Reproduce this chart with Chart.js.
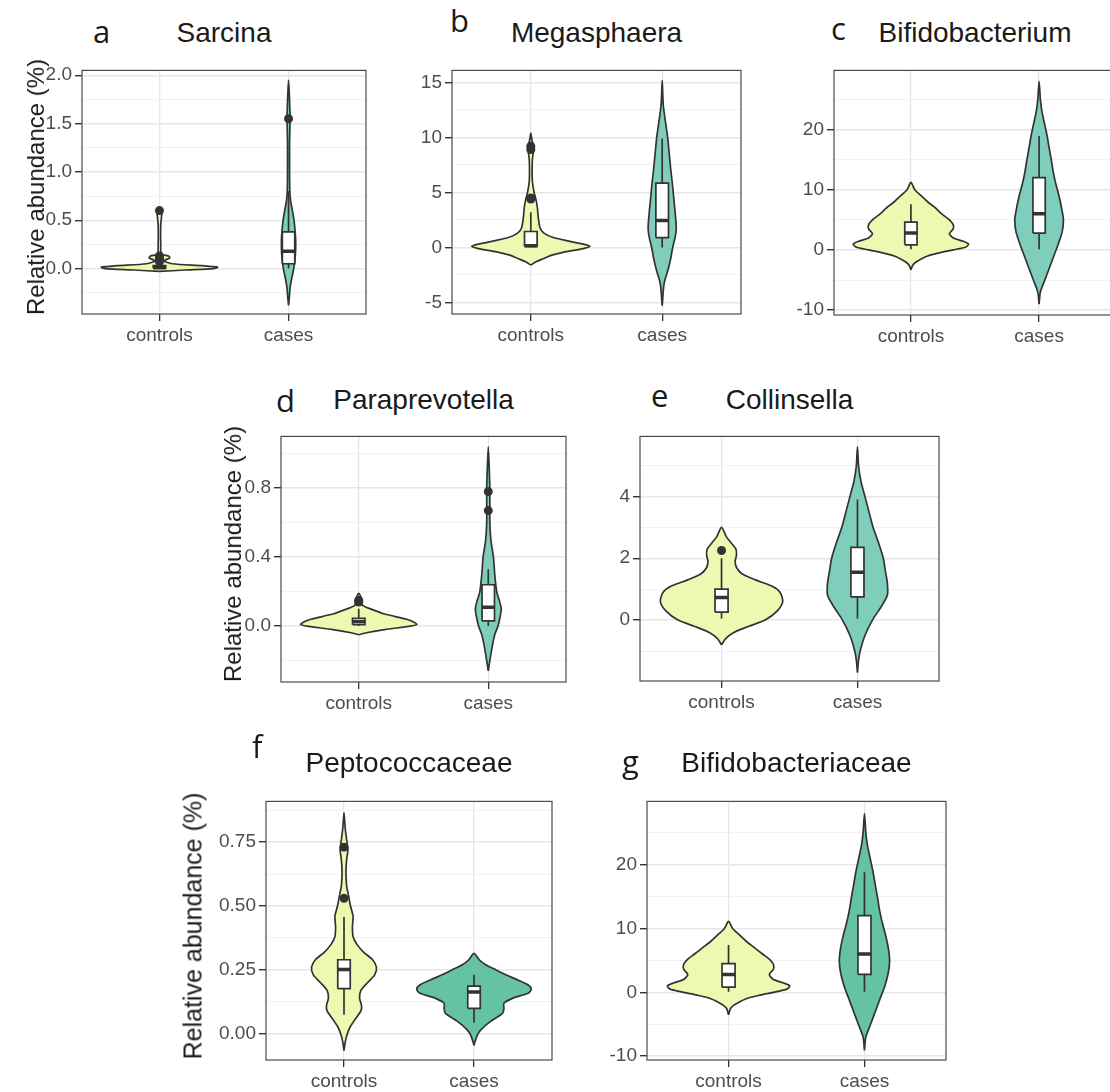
<!DOCTYPE html>
<html>
<head>
<meta charset="utf-8">
<script src="https://cdn.jsdelivr.net/npm/chart.js@4.4.1/dist/chart.umd.min.js"></script>
<style>
  html, body { margin: 0; padding: 0; background: #fff; width: 1110px; height: 1092px; overflow: hidden; position: relative; }
  canvas { position: absolute; }
  .txt { position: absolute; white-space: nowrap; line-height: 0; color: #1a1a1a; }
</style>
</head>
<body>
<script>
// categories
const groups = ["controls", "cases"];

// violin outlines: value levels (y) and half widths (w, in category units)
const aCtrlY = [-0.03, -0.015, 0, 0.015, 0.03, 0.05, 0.08, 0.11, 0.13, 0.15, 0.25, 0.45, 0.56, 0.6, 0.63];
const aCtrlW = [0, 0.2, 0.42, 0.45, 0.33, 0.1, 0.035, 0.08, 0.07, 0.015, 0.01, 0.01, 0.018, 0.02, 0];
const aCaseY = [-0.38, -0.3, -0.2, -0.1, 0, 0.1, 0.2, 0.3, 0.4, 0.5, 0.6, 0.7, 0.8, 1.0, 1.3, 1.5, 1.6, 1.8, 1.95];
const aCaseW = [0, 0.006, 0.012, 0.025, 0.04, 0.05, 0.055, 0.055, 0.05, 0.042, 0.03, 0.016, 0.01, 0.008, 0.008, 0.011, 0.011, 0.006, 0];

const bCtrlY = [-1.6, -1.3, -1.0, -0.7, -0.4, -0.1, 0.1, 0.3, 0.6, 0.9, 1.3, 1.8, 2.8, 3.6, 4.3, 5, 6, 7, 8, 8.8, 9.3, 9.8, 10.4];
const bCtrlW = [0, 0.04, 0.1, 0.16, 0.26, 0.4, 0.45, 0.4, 0.28, 0.17, 0.1, 0.07, 0.056, 0.05, 0.04, 0.025, 0.012, 0.01, 0.012, 0.02, 0.018, 0.008, 0];
const bCaseY = [-5.3, -4.5, -3.5, -3, -2, -1, 0, 1, 1.8, 3, 4, 5, 6, 7, 8, 9, 10, 11, 12, 13, 14, 15.2];
const bCaseW = [0, 0.005, 0.012, 0.02, 0.045, 0.065, 0.08, 0.1, 0.107, 0.1, 0.092, 0.084, 0.076, 0.066, 0.058, 0.05, 0.042, 0.03, 0.018, 0.008, 0.004, 0];

const cCtrlY = [-3.3, -2.5, -2, -1.5, -1, -0.5, 0, 0.5, 1, 1.5, 2, 2.7, 3.5, 4.2, 5, 6, 7, 8, 9, 10, 11.2];
const cCtrlW = [0, 0.015, 0.04, 0.08, 0.13, 0.22, 0.33, 0.43, 0.45, 0.4, 0.33, 0.3, 0.33, 0.33, 0.3, 0.24, 0.19, 0.13, 0.08, 0.03, 0];
const cCaseY = [-9, -7, -5, -3, -1, 1, 3, 5, 7, 9, 11, 13, 15, 17, 19, 21, 23, 25, 28];
const cCaseW = [0, 0.01, 0.045, 0.08, 0.115, 0.15, 0.18, 0.19, 0.175, 0.155, 0.13, 0.11, 0.095, 0.078, 0.062, 0.042, 0.022, 0.01, 0];

const dCtrlY = [-0.05, -0.04, -0.02, 0, 0.01, 0.025, 0.04, 0.07, 0.1, 0.12, 0.14, 0.16, 0.18, 0.19];
const dCtrlW = [0, 0.05, 0.2, 0.4, 0.45, 0.42, 0.37, 0.2, 0.09, 0.03, 0.025, 0.02, 0.01, 0];
const dCaseY = [-0.26, -0.2, -0.1, -0.05, 0, 0.05, 0.1, 0.15, 0.2, 0.3, 0.4, 0.5, 0.6, 0.7, 0.8, 0.9, 1.04];
const dCaseW = [0, 0.012, 0.035, 0.05, 0.075, 0.09, 0.1, 0.085, 0.065, 0.05, 0.04, 0.02, 0.012, 0.012, 0.012, 0.008, 0];

const eCtrlY = [-0.8, -0.6, -0.4, -0.2, 0, 0.3, 0.6, 0.9, 1.1, 1.3, 1.5, 1.7, 1.9, 2.1, 2.3, 2.5, 2.7, 3.0];
const eCtrlW = [0, 0.03, 0.09, 0.2, 0.32, 0.41, 0.45, 0.43, 0.37, 0.25, 0.15, 0.11, 0.1, 0.11, 0.105, 0.07, 0.035, 0];
const eCaseY = [-1.7, -1.3, -1, -0.5, 0, 0.4, 0.8, 1.2, 1.6, 2, 2.5, 3, 3.5, 4, 4.5, 5, 5.6];
const eCaseW = [0, 0.008, 0.02, 0.055, 0.11, 0.17, 0.22, 0.22, 0.205, 0.19, 0.155, 0.115, 0.085, 0.055, 0.025, 0.008, 0];

const fCtrlY = [-0.065, -0.03, 0, 0.03, 0.06, 0.09, 0.11, 0.14, 0.17, 0.2, 0.23, 0.26, 0.29, 0.32, 0.35, 0.38, 0.42, 0.46, 0.5, 0.54, 0.58, 0.63, 0.68, 0.72, 0.76, 0.8, 0.865];
const fCtrlW = [0, 0.01, 0.025, 0.05, 0.09, 0.13, 0.135, 0.12, 0.13, 0.18, 0.235, 0.25, 0.22, 0.15, 0.1, 0.07, 0.065, 0.07, 0.05, 0.035, 0.02, 0.015, 0.02, 0.03, 0.02, 0.01, 0];
const fCaseY = [-0.045, -0.03, 0, 0.02, 0.05, 0.08, 0.1, 0.12, 0.14, 0.16, 0.175, 0.19, 0.21, 0.23, 0.25, 0.27, 0.29, 0.315];
const fCaseW = [0, 0.008, 0.03, 0.06, 0.13, 0.22, 0.23, 0.23, 0.3, 0.42, 0.44, 0.42, 0.34, 0.25, 0.17, 0.09, 0.04, 0];

const gCtrlY = [-3.5, -2.5, -2, -1.5, -1, -0.5, 0, 0.5, 1, 1.5, 2, 2.8, 3.6, 4.4, 5.2, 6, 7, 8, 9, 10, 11.1];
const gCtrlW = [0, 0.015, 0.04, 0.08, 0.13, 0.22, 0.33, 0.43, 0.45, 0.4, 0.33, 0.3, 0.33, 0.33, 0.3, 0.25, 0.19, 0.13, 0.08, 0.03, 0];
const gCaseY = [-9.1, -7, -5, -3, -1, 1, 3, 5, 7, 9, 11, 13, 15, 17, 19, 21, 23, 25, 28];
const gCaseW = [0, 0.01, 0.045, 0.08, 0.115, 0.15, 0.175, 0.185, 0.175, 0.155, 0.13, 0.11, 0.095, 0.078, 0.062, 0.042, 0.022, 0.01, 0];

// box stats per group: [lower whisker, q1, median, q3, upper whisker]
const aBox = [[0, 0.003, 0.012, 0.03, 0.065], [0, 0.05, 0.18, 0.38, 0.8]];
const bBox = [[0, 0.1, 0.15, 1.45, 3.2], [0, 0.9, 2.45, 5.85, 9.9]];
const cBox = [[0.1, 0.85, 2.8, 4.6, 7.6], [0.1, 2.8, 6.0, 12.0, 18.9]];
const dBox = [[0, 0.008, 0.025, 0.045, 0.1], [0, 0.03, 0.11, 0.24, 0.33]];
const eBox = [[0.05, 0.26, 0.73, 1.0, 2.0], [0.05, 0.75, 1.55, 2.35, 3.9]];
const fBox = [[0.075, 0.177, 0.252, 0.29, 0.457], [0.044, 0.1, 0.164, 0.187, 0.231]];
const gBox = [[0.1, 0.8, 2.8, 4.5, 7.4], [0.1, 2.8, 6.0, 12.0, 18.8]];

// outliers per group
const aOut = [[0.6, 0.13, 0.11, 0.09, 0.07], [1.55]];
const bOut = [[9.2, 8.9, 4.5, 4.4], []];
const cOut = [[], []];
const dOut = [[0.15, 0.14], [0.78, 0.67]];
const eOut = [[2.25], []];
const fOut = [[0.73, 0.53], []];
const gOut = [[], []];

// y axis ticks
const aMajor = [0, 0.5, 1, 1.5, 2], aLabels = ["0.0", "0.5", "1.0", "1.5", "2.0"], aMinor = [-0.25, 0.25, 0.75, 1.25, 1.75];
const bMajor = [-5, 0, 5, 10, 15], bLabels = ["-5", "0", "5", "10", "15"], bMinor = [-2.5, 2.5, 7.5, 12.5];
const cMajor = [-10, 0, 10, 20], cLabels = ["-10", "0", "10", "20"], cMinor = [-5, 5, 15, 25];
const dMajor = [0, 0.4, 0.8], dLabels = ["0.0", "0.4", "0.8"], dMinor = [-0.2, 0.2, 0.6, 1.0];
const eMajor = [0, 2, 4], eLabels = ["0", "2", "4"], eMinor = [-1, 1, 3, 5];
const fMajor = [0, 0.25, 0.5, 0.75], fLabels = ["0.00", "0.25", "0.50", "0.75"], fMinor = [0.125, 0.375, 0.625, 0.875];
const gMajor = [-10, 0, 10, 20], gLabels = ["-10", "0", "10", "20"], gMinor = [-5, 5, 15, 25];

// layout: plot rect [left, top, right, bottom] in page px, y range, text positions
const panels = [
  { letter: "a", title: "Sarcina", rect: [82, 62, 366, 314], y: [-0.47, 2.05], letterPos: [93, 43], titleY: 43,
    ctrl: [aCtrlY, aCtrlW], cases: [aCaseY, aCaseW], box: aBox, out: aOut, major: aMajor, labels: aLabels, minor: aMinor, caseFill: "#7fcdbb" },
  { letter: "b", title: "Megasphaera", rect: [452, 62, 741, 314], y: [-6.05, 16.1], letterPos: [450, 32], titleY: 43,
    ctrl: [bCtrlY, bCtrlW], cases: [bCaseY, bCaseW], box: bBox, out: bOut, major: bMajor, labels: bLabels, minor: bMinor, caseFill: "#7fcdbb" },
  { letter: "c", title: "Bifidobacterium", rect: [834, 62, 1116, 315], y: [-10.8, 29.8], letterPos: [831, 40], titleY: 43,
    ctrl: [cCtrlY, cCtrlW], cases: [cCaseY, cCaseW], box: cBox, out: cOut, major: cMajor, labels: cLabels, minor: cMinor, caseFill: "#7fcdbb" },
  { letter: "d", title: "Paraprevotella", rect: [281, 428, 566, 682], y: [-0.324, 1.10], letterPos: [276, 412], titleY: 410,
    ctrl: [dCtrlY, dCtrlW], cases: [dCaseY, dCaseW], box: dBox, out: dOut, major: dMajor, labels: dLabels, minor: dMinor, caseFill: "#7fcdbb" },
  { letter: "e", title: "Collinsella", rect: [640, 428, 939, 681], y: [-1.97, 5.94], letterPos: [651, 407], titleY: 410,
    ctrl: [eCtrlY, eCtrlW], cases: [eCaseY, eCaseW], box: eBox, out: eOut, major: eMajor, labels: eLabels, minor: eMinor, caseFill: "#7fcdbb" },
  { letter: "f", title: "Peptococcaceae", rect: [266, 793, 552, 1060], y: [-0.102, 0.909], letterPos: [252, 758], titleY: 773,
    ctrl: [fCtrlY, fCtrlW], cases: [fCaseY, fCaseW], box: fBox, out: fOut, major: fMajor, labels: fLabels, minor: fMinor, caseFill: "#66c2a4" },
  { letter: "g", title: "Bifidobacteriaceae", rect: [647, 793, 946, 1060], y: [-10.6, 29.9], letterPos: [622, 773], titleY: 773,
    ctrl: [gCtrlY, gCtrlW], cases: [gCaseY, gCaseW], box: gBox, out: gOut, major: gMajor, labels: gLabels, minor: gMinor, caseFill: "#66c2a4" },
];

const yTitles = [[36, 187, 24], [233, 554, 24], [193, 926, 25]];

const CTRL_FILL = "#edf8b1";
const INK = "#333333";
const BOX_HW = 0.048;
const AXIS_W = 80, AXIS_H = 44, PAD = 6;

Chart.defaults.font.family = "'Liberation Sans', Arial, sans-serif";

function addText(str, x, baseline, size, family, align) {
  const d = document.createElement("div");
  d.className = "txt";
  d.textContent = str;
  d.style.fontFamily = family;
  d.style.fontSize = size + "px";
  // line-height 0 puts the baseline (ascent - descent) / 2 below the top
  const k = family.indexOf("Open Sans") >= 0 ? 0.388 : 0.3465;
  d.style.top = (baseline - k * size) + "px";
  d.style.left = x + "px";
  if (align === "center") d.style.transform = "translateX(-50%)";
  document.body.appendChild(d);
}

function violin(cx, ys, ws) {
  const left = ys.map((y, i) => ({ x: cx - ws[i], y }));
  const right = ys.map((y, i) => ({ x: cx + ws[i], y })).reverse();
  return left.concat(right.slice(1));
}

const frame = {
  id: "frame",
  afterDraw(chart) {
    const a = chart.chartArea, c = chart.ctx;
    c.save();
    c.strokeStyle = "#4a4a4a";
    c.lineWidth = 1.2;
    c.strokeRect(a.left, a.top, a.right - a.left, a.bottom - a.top);
    c.restore();
  }
};

panels.forEach(p => {
  const [L, T, R, B] = p.rect;
  const cv = document.createElement("canvas");
  const w = R - L + AXIS_W + PAD, h = B - T + PAD + AXIS_H;
  cv.width = w; cv.height = h;
  cv.style.left = (L - AXIS_W) + "px";
  cv.style.top = (T - PAD) + "px";
  cv.style.width = w + "px"; cv.style.height = h + "px";
  document.body.appendChild(cv);

  const isMajor = v => p.major.some(m => Math.abs(m - v) < 1e-9);
  const datasets = [];
  [p.ctrl, p.cases].forEach((g, gi) => {
    const cx = gi + 1;
    const [lo, q1, med, q3, hi] = p.box[gi];
    datasets.push({
      data: violin(cx, g[0], g[1]), fill: "shape", tension: 0.25,
      backgroundColor: gi === 0 ? CTRL_FILL : p.caseFill, borderColor: INK, borderWidth: 1.7, order: 4
    });
    datasets.push({
      data: [{ x: cx, y: lo }, { x: cx, y: hi }], fill: false, tension: 0,
      borderColor: INK, borderWidth: 1.7, order: 3
    });
    datasets.push({
      data: [{ x: cx - BOX_HW, y: q1 }, { x: cx - BOX_HW, y: q3 }, { x: cx + BOX_HW, y: q3 }, { x: cx + BOX_HW, y: q1 }, { x: cx - BOX_HW, y: q1 }],
      fill: "shape", tension: 0, backgroundColor: "#ffffff", borderColor: INK, borderWidth: 1.7, order: 2
    });
    datasets.push({
      data: [{ x: cx - BOX_HW, y: med }, { x: cx + BOX_HW, y: med }], fill: false, tension: 0,
      borderColor: INK, borderWidth: 3.5, order: 1
    });
    datasets.push({
      data: p.out[gi].map(v => ({ x: cx, y: v })), showLine: false,
      pointRadius: 4.5, pointBackgroundColor: INK, pointBorderWidth: 0, order: 0
    });
  });
  datasets.forEach(d => { if (d.pointRadius === undefined) d.pointRadius = 0; });

  new Chart(cv, {
    type: "line",
    data: { datasets },
    plugins: [frame],
    options: {
      responsive: false,
      animation: false,
      events: [],
      layout: { padding: { top: PAD, right: PAD, left: 0, bottom: 0 } },
      plugins: { legend: { display: false }, tooltip: { enabled: false } },
      scales: {
        x: {
          type: "linear", min: 0.4, max: 2.6,
          afterBuildTicks: s => { s.ticks = groups.map((g, i) => ({ value: i + 1 })); },
          afterFit: s => { s.height = AXIS_H; },
          ticks: { autoSkip: false, maxRotation: 0, padding: 3, color: "#4d4d4d", font: { size: 19 },
                   callback: v => groups[Math.round(v) - 1] },
          grid: { color: "#e6e6e6", lineWidth: 1.3, tickLength: 7, tickColor: INK },
          border: { display: false }
        },
        y: {
          type: "linear", min: p.y[0], max: p.y[1],
          afterBuildTicks: s => { s.ticks = p.major.concat(p.minor).sort((a, b) => a - b).map(v => ({ value: v })); },
          afterFit: s => { s.width = AXIS_W; },
          ticks: { autoSkip: false, padding: 3, color: "#4d4d4d", font: { size: 19 },
                   callback: v => { const i = p.major.findIndex(m => Math.abs(m - v) < 1e-9); return i >= 0 ? p.labels[i] : ""; } },
          grid: {
            color: c => (c.tick && !isMajor(c.tick.value)) ? "#efefef" : "#e6e6e6",
            lineWidth: c => (c.tick && !isMajor(c.tick.value)) ? 0.9 : 1.4,
            tickLength: 7,
            tickColor: c => (c.tick && !isMajor(c.tick.value)) ? "rgba(0,0,0,0)" : INK
          },
          border: { display: false }
        }
      }
    }
  });

  addText(p.letter, p.letterPos[0], p.letterPos[1], 31, "'Open Sans', 'Noto Sans', sans-serif", "left");
  addText(p.title, (L + R) / 2, p.titleY, 28, "'Liberation Sans', Arial, sans-serif", "center");
});

yTitles.forEach(([cx, cy, size]) => {
  const d = document.createElement("div");
  d.className = "txt";
  d.textContent = "Relative abundance (%)";
  d.style.fontFamily = "'Liberation Sans', Arial, sans-serif";
  d.style.fontSize = size + "px";
  d.style.lineHeight = "normal";
  d.style.left = cx + "px";
  d.style.top = cy + "px";
  d.style.transform = "translate(-50%, -50%) rotate(-90deg)";
  document.body.appendChild(d);
});
</script>
</body>
</html>
